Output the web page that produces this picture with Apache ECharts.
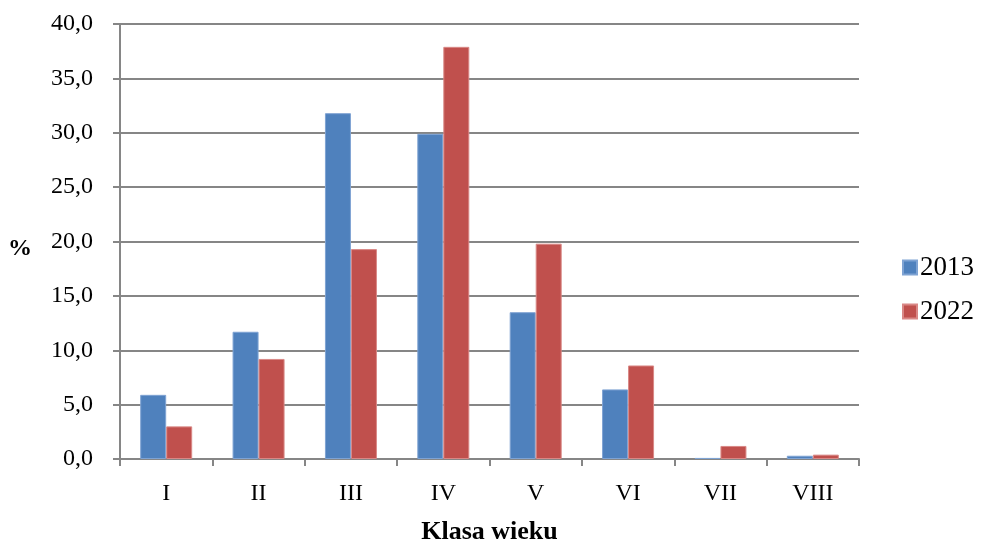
<!DOCTYPE html>
<html>
<head>
<meta charset="utf-8">
<script src="https://cdn.jsdelivr.net/npm/echarts@6/dist/echarts.min.js"></script>
<style>
  html, body { margin: 0; padding: 0; background: #fff; }
  #chart { width: 982px; height: 544px; }
</style>
</head>
<body>
<div id="chart"></div>
<script>
// Age classes (Klasa wieku) and share of each class, in percent
const categories = ['I', 'II', 'III', 'IV', 'V', 'VI', 'VII', 'VIII'];
const seriesNames = ['2013', '2022'];
const values2013 = [5.9, 11.7, 31.8, 29.9, 13.5, 6.4, 0.1, 0.3];
const values2022 = [3.0, 9.2, 19.3, 37.9, 19.8, 8.6, 1.2, 0.4];
const yTicks = { min: 0, max: 40, interval: 5 };

const FONT = '"Liberation Serif", "DejaVu Serif", serif';
const AXIS_GREY = '#868686';

const chart = echarts.init(document.getElementById('chart'), null, { renderer: 'canvas' });

chart.setOption({
  animation: false,
  backgroundColor: '#ffffff',
  textStyle: { fontFamily: FONT },
  grid: { left: 120, right: 123, top: 24, bottom: 85, containLabel: false, outerBoundsMode: 'none' },
  legend: {
    orient: 'vertical',
    left: 897,
    top: 249,
    itemWidth: 14,
    itemHeight: 14,
    itemGap: 17,
    icon: 'rect',
    textStyle: { fontFamily: FONT, fontSize: 27, color: '#000', padding: [0, 0, 0, -2] },
    data: seriesNames
  },
  xAxis: {
    type: 'category',
    data: categories,
    name: 'Klasa wieku',
    nameLocation: 'middle',
    nameGap: 60,
    nameTextStyle: { fontFamily: FONT, fontSize: 26, fontWeight: 'bold', color: '#000' },
    axisLine: { lineStyle: { color: AXIS_GREY, width: 2 } },
    axisTick: { show: true, length: 7, lineStyle: { color: AXIS_GREY, width: 2 }, alignWithLabel: false },
    axisLabel: { fontFamily: FONT, fontSize: 24, color: '#000', margin: 23 }
  },
  yAxis: {
    type: 'value',
    min: yTicks.min,
    max: yTicks.max,
    interval: yTicks.interval,
    name: '%',
    nameLocation: 'middle',
    nameRotate: 0,
    nameGap: 88,
    nameTextStyle: {
      fontFamily: FONT, fontSize: 24, fontWeight: 'bold', color: '#000',
      verticalAlign: 'top', lineHeight: 14
    },
    axisLine: { show: true, lineStyle: { color: AXIS_GREY, width: 2 } },
    axisTick: { show: true, length: 7, lineStyle: { color: AXIS_GREY, width: 2 } },
    axisLabel: {
      fontFamily: FONT, fontSize: 24, color: '#000', margin: 27,
      formatter: v => v.toFixed(1).replace('.', ',')
    },
    splitLine: { show: true, lineStyle: { color: AXIS_GREY, width: 2 } }
  },
  series: [
    {
      name: seriesNames[0],
      type: 'bar',
      data: values2013,
      barWidth: 26,
      barGap: '0%',
      itemStyle: { color: '#4F81BD', borderColor: '#7FA3D3', borderWidth: 1 }
    },
    {
      name: seriesNames[1],
      type: 'bar',
      data: values2022,
      barWidth: 26,
      barGap: '0%',
      itemStyle: { color: '#C0504D', borderColor: '#D98886', borderWidth: 1 }
    }
  ]
});
</script>
</body>
</html>
